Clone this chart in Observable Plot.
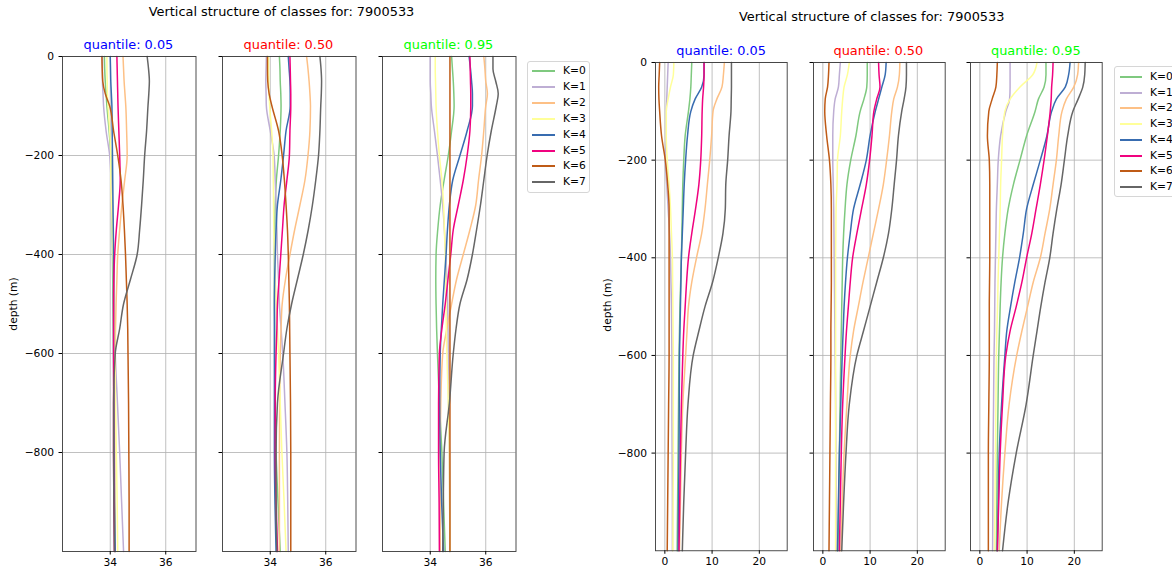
<!DOCTYPE html>
<html>
<head>
<meta charset="utf-8">
<script src="https://cdn.jsdelivr.net/npm/d3@7"></script>
<script src="https://cdn.jsdelivr.net/npm/@observablehq/plot@0.6"></script>
<style>
  body { margin: 0; background: #fff; font-family: "DejaVu Sans", sans-serif; }
  #fig { position: relative; width: 1172px; height: 571px; overflow: hidden; background: #fff; }
  .abs { position: absolute; white-space: nowrap; line-height: 1; }
  .title { font-size: 12.9px; color: #000; transform: translate(-50%, -50%); }
  .sub { font-size: 12.9px; transform: translate(-50%, -50%); }
  .ylab { font-size: 10.7px; color: #000; transform: translate(-50%, -50%) rotate(-90deg); }
  .legend { position: absolute; border: 1px solid #d6d6d6; border-radius: 3px; background: rgba(255,255,255,0.85); box-sizing: border-box; }
  .legend .sw { position: absolute; height: 2px; }
  .legend .lt { position: absolute; font-size: 10.7px; color: #000; transform: translateY(-50%); white-space: nowrap; line-height: 1; }
</style>
</head>
<body>
<div id="fig"></div>
<script>
// ---------------- data ----------------
const classes = ["K=0", "K=1", "K=2", "K=3", "K=4", "K=5", "K=6", "K=7"];
const colors = ["#7fc97f", "#beaed4", "#fdc086", "#ffff99", "#386cb0", "#f0027f", "#bf5b17", "#666666"];
const depths = [0, -25, -50, -75, -100, -150, -200, -250, -300, -350, -400, -450, -500, -550, -600, -700, -800, -900, -1000];
const quantiles = ["quantile: 0.05", "quantile: 0.50", "quantile: 0.95"];
const quantileColors = ["blue", "red", "lime"];
const figTitle = "Vertical structure of classes for: 7900533";
const yLabel = "depth (m)";
const yTicks = [0, -200, -400, -600, -800];
const leftXTicks = [34, 36];
const rightXTicks = [0, 10, 20];

// left figure, quantile 0.05 (rows K=0..K=7)
const leftQ05 = [
  [33.79, 33.80, 33.82, 33.85, 33.88, 33.96, 34.02, 34.04, 34.06, 34.07, 34.08, 34.09, 34.10, 34.11, 34.12, 34.14, 34.15, 34.16, 34.18],
  [33.72, 33.72, 33.72, 33.74, 33.76, 33.85, 33.98, 34.03, 34.06, 34.09, 34.12, 34.14, 34.15, 34.16, 34.18, 34.26, 34.34, 34.41, 34.48],
  [34.46, 34.48, 34.50, 34.53, 34.56, 34.59, 34.61, 34.52, 34.42, 34.34, 34.27, 34.24, 34.21, 34.19, 34.18, 34.17, 34.16, 34.16, 34.18],
  [33.88, 33.88, 33.89, 33.90, 33.92, 33.98, 34.02, 34.02, 34.05, 34.08, 34.10, 34.12, 34.13, 34.15, 34.16, 34.19, 34.22, 34.25, 34.27],
  [34.00, 34.01, 34.02, 34.04, 34.06, 34.07, 34.08, 34.09, 34.10, 34.11, 34.12, 34.12, 34.12, 34.12, 34.12, 34.13, 34.14, 34.15, 34.18],
  [34.24, 34.25, 34.26, 34.27, 34.28, 34.31, 34.34, 34.36, 34.30, 34.22, 34.16, 34.13, 34.12, 34.12, 34.12, 34.12, 34.12, 34.13, 34.15],
  [33.70, 33.71, 33.73, 33.82, 33.98, 34.12, 34.27, 34.39, 34.46, 34.51, 34.55, 34.58, 34.61, 34.63, 34.64, 34.66, 34.67, 34.68, 34.68],
  [35.33, 35.38, 35.41, 35.39, 35.36, 35.31, 35.24, 35.19, 35.13, 35.06, 34.97, 34.73, 34.48, 34.34, 34.18, 34.12, 34.12, 34.13, 34.15]
];
// left figure, quantile 0.50
const leftQ50 = [
  [34.33, 34.35, 34.36, 34.38, 34.39, 34.36, 34.30, 34.22, 34.18, 34.16, 34.15, 34.15, 34.15, 34.16, 34.16, 34.18, 34.21, 34.28, 34.36],
  [33.86, 33.85, 33.84, 33.85, 33.86, 34.00, 34.14, 34.18, 34.21, 34.24, 34.26, 34.30, 34.33, 34.39, 34.45, 34.53, 34.60, 34.63, 34.65],
  [35.31, 35.36, 35.40, 35.43, 35.45, 35.43, 35.36, 35.25, 35.07, 34.88, 34.71, 34.55, 34.43, 34.39, 34.36, 34.34, 34.33, 34.33, 34.33],
  [33.94, 33.94, 33.95, 33.96, 33.98, 34.05, 34.10, 34.11, 34.12, 34.13, 34.15, 34.18, 34.22, 34.26, 34.30, 34.36, 34.42, 34.50, 34.57],
  [34.65, 34.68, 34.71, 34.72, 34.72, 34.57, 34.48, 34.38, 34.26, 34.21, 34.18, 34.16, 34.15, 34.15, 34.15, 34.15, 34.15, 34.17, 34.21],
  [34.71, 34.72, 34.73, 34.74, 34.74, 34.71, 34.69, 34.60, 34.50, 34.44, 34.38, 34.32, 34.26, 34.24, 34.21, 34.18, 34.18, 34.21, 34.26],
  [33.90, 33.90, 33.91, 33.96, 34.06, 34.30, 34.43, 34.51, 34.57, 34.62, 34.65, 34.67, 34.69, 34.70, 34.71, 34.73, 34.74, 34.74, 34.74],
  [35.79, 35.83, 35.85, 35.84, 35.82, 35.79, 35.74, 35.64, 35.52, 35.37, 35.19, 34.98, 34.77, 34.60, 34.48, 34.26, 34.21, 34.21, 34.24]
];
// left figure, quantile 0.95
const leftQ95 = [
  [34.77, 34.80, 34.83, 34.85, 34.86, 34.77, 34.65, 34.50, 34.36, 34.27, 34.21, 34.20, 34.21, 34.23, 34.26, 34.33, 34.42, 34.48, 34.54],
  [34.00, 34.00, 34.00, 34.02, 34.04, 34.15, 34.26, 34.36, 34.45, 34.51, 34.56, 34.60, 34.63, 34.64, 34.65, 34.66, 34.69, 34.70, 34.71],
  [35.93, 35.97, 36.00, 36.06, 36.00, 35.93, 35.85, 35.74, 35.64, 35.43, 35.19, 34.95, 34.77, 34.60, 34.45, 34.38, 34.36, 34.36, 34.36],
  [34.18, 34.18, 34.19, 34.20, 34.21, 34.26, 34.33, 34.42, 34.48, 34.51, 34.54, 34.56, 34.57, 34.58, 34.60, 34.65, 34.69, 34.70, 34.71],
  [35.40, 35.45, 35.49, 35.52, 35.52, 35.33, 35.07, 34.81, 34.69, 34.62, 34.57, 34.51, 34.45, 34.40, 34.36, 34.34, 34.36, 34.41, 34.48],
  [35.43, 35.44, 35.45, 35.46, 35.46, 35.43, 35.33, 35.19, 35.01, 34.83, 34.74, 34.64, 34.54, 34.42, 34.33, 34.30, 34.30, 34.32, 34.33],
  [34.71, 34.71, 34.71, 34.71, 34.71, 34.71, 34.71, 34.71, 34.71, 34.71, 34.71, 34.71, 34.71, 34.71, 34.71, 34.71, 34.71, 34.71, 34.71],
  [36.26, 36.26, 36.36, 36.45, 36.38, 36.20, 36.05, 35.93, 35.81, 35.67, 35.52, 35.33, 35.07, 34.93, 34.83, 34.69, 34.50, 34.47, 34.45]
];
// right figure, quantile 0.05
const rightQ05 = [
  [5.7, 5.6, 5.5, 5.3, 5.0, 4.3, 4.0, 3.8, 3.7, 3.6, 3.5, 3.35, 3.2, 3.1, 3.0, 2.9, 2.8, 2.7, 2.6],
  [0.7, 0.6, 0.5, 0.4, 0.3, 0.3, 0.1, 0.4, 0.7, 1.0, 1.2, 1.3, 1.4, 1.45, 1.5, 1.5, 1.55, 1.6, 1.6],
  [12.6, 12.4, 12.1, 11.0, 10.2, 9.9, 9.5, 9.0, 8.5, 7.8, 6.7, 5.7, 5.0, 4.7, 4.4, 3.8, 3.5, 3.3, 3.1],
  [1.9, 1.8, 1.2, 0.7, 0.3, 0.3, 0.5, 0.9, 1.2, 1.4, 1.6, 1.65, 1.7, 1.75, 1.8, 1.8, 1.8, 1.75, 1.7],
  [8.3, 8.3, 7.8, 6.4, 5.5, 4.8, 4.4, 4.1, 3.9, 3.7, 3.5, 3.4, 3.3, 3.2, 3.1, 3.05, 3.0, 2.9, 2.8],
  [8.3, 8.3, 8.2, 8.0, 7.9, 7.8, 7.6, 7.2, 6.5, 5.7, 5.0, 4.6, 4.3, 4.0, 3.8, 3.5, 3.3, 3.15, 3.0],
  [-1.1, -1.2, -1.3, -1.25, -1.1, -0.7, 0.1, 0.6, 0.9, 0.9, 0.9, 0.9, 0.9, 0.9, 0.9, 0.8, 0.7, 0.6, 0.5],
  [14.1, 14.1, 14.1, 14.05, 14.0, 13.6, 13.3, 12.9, 12.8, 12.3, 11.3, 10.1, 8.5, 7.2, 6.0, 4.9, 4.4, 4.0, 3.7]
];
// right figure, quantile 0.50
const rightQ50 = [
  [9.4, 9.4, 9.3, 8.7, 7.9, 7.0, 5.9, 5.1, 4.7, 4.4, 4.2, 4.1, 4.0, 3.9, 3.8, 3.65, 3.5, 3.35, 3.2],
  [3.7, 3.5, 3.3, 2.6, 2.3, 2.1, 2.1, 2.2, 2.3, 2.35, 2.4, 2.45, 2.5, 2.55, 2.6, 2.7, 2.75, 2.8, 2.8],
  [16.3, 16.2, 15.8, 15.0, 14.6, 14.1, 13.5, 12.8, 11.8, 10.7, 9.6, 8.5, 7.5, 6.5, 5.8, 5.1, 4.5, 4.1, 3.8],
  [5.6, 5.2, 4.5, 4.2, 4.0, 3.7, 3.1, 3.0, 2.8, 2.75, 2.7, 2.7, 2.7, 2.7, 2.7, 2.7, 2.7, 2.7, 2.7],
  [13.4, 13.2, 12.5, 11.8, 11.1, 10.0, 9.2, 7.9, 6.5, 5.8, 5.2, 4.8, 4.5, 4.3, 4.1, 3.8, 3.5, 3.3, 3.1],
  [11.8, 11.9, 12.1, 11.4, 10.8, 10.4, 9.9, 9.2, 8.2, 7.2, 6.3, 5.8, 5.4, 5.0, 4.7, 4.2, 3.9, 3.7, 3.5],
  [1.3, 1.2, 1.0, 0.5, 0.4, 0.8, 1.4, 1.7, 1.8, 1.8, 1.8, 1.8, 1.75, 1.7, 1.7, 1.6, 1.5, 1.4, 1.3],
  [17.7, 17.7, 17.6, 17.2, 16.7, 16.0, 15.6, 15.1, 14.6, 13.9, 12.8, 11.4, 10.0, 8.6, 7.2, 5.6, 4.9, 4.4, 4.0]
];
// right figure, quantile 0.95
const rightQ95 = [
  [14.0, 14.0, 13.6, 12.4, 11.7, 9.9, 8.5, 7.1, 6.0, 5.3, 4.8, 4.5, 4.3, 4.15, 4.0, 3.85, 3.7, 3.6, 3.5],
  [6.4, 6.4, 6.4, 6.3, 5.5, 4.4, 3.9, 3.7, 3.5, 3.4, 3.3, 3.2, 3.15, 3.1, 3.0, 2.9, 2.8, 2.75, 2.7],
  [20.9, 20.7, 19.9, 18.3, 17.4, 16.7, 16.2, 15.5, 14.8, 13.8, 12.8, 11.3, 10.1, 8.9, 7.8, 6.2, 5.3, 4.6, 4.1],
  [12.1, 11.2, 8.5, 6.4, 5.3, 4.8, 4.6, 4.4, 4.3, 4.15, 4.0, 3.85, 3.75, 3.6, 3.5, 3.4, 3.3, 3.2, 3.1],
  [19.1, 18.8, 18.1, 16.2, 15.2, 14.2, 12.8, 11.3, 9.9, 9.2, 8.4, 7.4, 6.5, 5.7, 5.3, 4.6, 4.1, 3.9, 3.7],
  [15.5, 15.4, 15.2, 15.1, 14.9, 14.3, 13.6, 12.8, 11.9, 11.0, 9.9, 8.9, 7.7, 6.4, 5.5, 4.8, 4.3, 4.0, 3.7],
  [3.7, 3.6, 3.4, 2.6, 1.9, 1.6, 2.0, 2.1, 2.1, 2.1, 2.1, 2.05, 2.0, 2.0, 2.0, 1.9, 1.8, 1.8, 1.8],
  [22.3, 22.2, 21.8, 20.8, 19.7, 18.6, 17.9, 17.2, 16.3, 15.5, 14.8, 13.8, 12.9, 12.1, 11.3, 9.8, 7.7, 6.0, 4.8]
];

// ---------------- layout ----------------
const fig = document.getElementById("fig");

function toRows(matrix) {
  return classes.flatMap((k, ki) => depths.map((d, i) => ({ k, depth: d, v: matrix[ki][i] })));
}

function addText(cls, text, x, y, color) {
  const el = document.createElement("div");
  el.className = "abs " + cls;
  el.textContent = text;
  el.style.left = x + "px";
  el.style.top = y + "px";
  if (color) el.style.color = color;
  fig.appendChild(el);
}

function panel(matrix, { xDomain, xTicks, left, top, w, h, labels }) {
  const ml = labels ? 52 : 12, mr = 6, mt = 6, mb = 24;
  const svg = Plot.plot({
    width: ml + w + mr,
    height: mt + h + mb,
    marginLeft: ml, marginRight: mr, marginTop: mt, marginBottom: mb,
    style: { background: "transparent", fontFamily: "DejaVu Sans", fontSize: "10.7px", color: "#000", overflow: "visible" },
    x: { domain: xDomain },
    y: { domain: [-1000, 0] },
    color: { domain: classes, range: colors },
    marks: [
      Plot.gridX(xTicks, { stroke: "#b0b0b0", strokeOpacity: 1, strokeWidth: 0.8 }),
      Plot.gridY(yTicks, { stroke: "#b0b0b0", strokeOpacity: 1, strokeWidth: 0.8 }),
      Plot.line(toRows(matrix), { x: "v", y: "depth", z: "k", stroke: "k", strokeWidth: 1.5, curve: "monotone-y" }),
      Plot.frame({ stroke: "#3a3a3a", strokeWidth: 0.9 }),
      Plot.axisX(xTicks, { tickSize: 3.5, tickPadding: 3.5, label: null, tickFormat: d3.format("d") }),
      Plot.axisY(yTicks, { tickSize: 3.5, tickPadding: 5, label: null, tickFormat: labels ? d3.format("d") : () => "" })
    ]
  });
  const wrap = document.createElement("div");
  wrap.className = "abs";
  wrap.style.left = (left - ml) + "px";
  wrap.style.top = (top - mt) + "px";
  wrap.appendChild(svg);
  fig.appendChild(wrap);
}

function legend(x, y, w, h, firstY, step, swX, swW, textX) {
  const box = document.createElement("div");
  box.className = "legend";
  box.style.left = x + "px"; box.style.top = y + "px";
  box.style.width = w + "px"; box.style.height = h + "px";
  classes.forEach((k, i) => {
    const cy = Math.round(firstY + i * step);
    const sw = document.createElement("div");
    sw.className = "sw";
    sw.style.background = colors[i];
    sw.style.left = swX + "px"; sw.style.width = swW + "px";
    sw.style.top = (cy - 1) + "px";
    box.appendChild(sw);
    const t = document.createElement("div");
    t.className = "lt";
    t.textContent = k;
    t.style.left = textX + "px";
    t.style.top = cy + "px";
    box.appendChild(t);
  });
  fig.appendChild(box);
}

// left figure
const leftMats = [leftQ05, leftQ50, leftQ95];
const leftX = [61.7, 221.7, 381.7];
leftMats.forEach((m, i) => {
  panel(m, { xDomain: [32.28, 37.09], xTicks: leftXTicks, left: leftX[i], top: 56, w: 133.5, h: 495, labels: i === 0 });
  addText("sub", quantiles[i], leftX[i] + 66.75, 45, quantileColors[i]);
});
addText("title", figTitle, 281.5, 12);
addText("ylab", yLabel, 13.5, 303.5);
legend(527, 61, 63, 132, 9, 15.9, 4, 23, 35);

// right figure
const rightMats = [rightQ05, rightQ50, rightQ95];
const rightX = [655.3, 812.5, 970];
rightMats.forEach((m, i) => {
  panel(m, { xDomain: [-1.98, 25.9], xTicks: rightXTicks, left: rightX[i], top: 62, w: 131.7, h: 488.3, labels: i === 0 });
  addText("sub", quantiles[i], rightX[i] + 65.85, 51, quantileColors[i]);
});
addText("title", figTitle, 871.7, 17);
addText("ylab", yLabel, 608, 305);
legend(1114, 66, 70, 131, 10, 15.7, 5, 22, 35);
</script>
</body>
</html>
